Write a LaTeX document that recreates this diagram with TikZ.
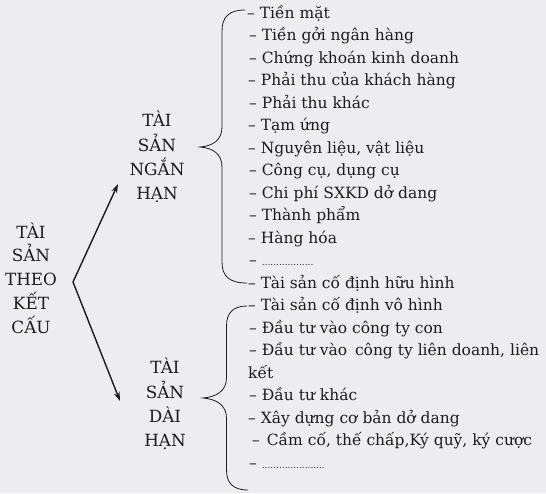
\documentclass[tikz,border=0pt]{standalone}
\usepackage{fontspec}
\setmainfont{DejaVu Serif}
\usepackage{tikz}
\usetikzlibrary{arrows.meta}
\definecolor{paper}{RGB}{237,237,240}
\definecolor{ink}{RGB}{28,28,30}

\begin{document}
\begin{tikzpicture}
            [x=1pt,y=-1pt,every node/.style={inner sep=0pt,text=ink},
             lbl/.style={align=center,font=\fontsize{16.8}{24.3}\selectfont},
             item/.style={anchor=base west,font=\fontsize{15.5}{22}\selectfont},
             dots/.style={font=\fontsize{9}{9}\selectfont},
             brace/.style={draw=ink,line width=.8pt},
             branch/.style={draw=ink,line width=1.4pt,-{Stealth[length=9pt,width=6pt]}}]
            \fill[paper] (0,0) rectangle (546,493);
            % the groups
            \node[lbl,font=\fontsize{16.8}{23.7}\selectfont] (theo) at (31,278) {TÀI\\SẢN\\THEO\\KẾT\\CẤU};
            \node[lbl] (ngan) at (157,157) {TÀI\\SẢN\\NGẮN\\HẠN};
            \node[lbl] (dai) at (165,404) {TÀI\\SẢN\\DÀI\\HẠN};
            % short term items
            \node[item] (a1) at (247,18) {– Tiền mặt};
            \node[item] (a2) at (249,40.5) {– Tiền gởi ngân hàng};
            \node[item] (a3) at (249,63) {– Chứng khoán kinh doanh};
            \node[item] (a4) at (248,85.5) {– Phải thu của khách hàng};
            \node[item] (a5) at (249,108) {– Phải thu khác};
            \node[item] (a6) at (248,130.5) {– Tạm ứng};
            \node[item] (a7) at (248,153) {– Nguyên liệu, vật liệu};
            \node[item] (a8) at (249,175.5) {– Công cụ, dụng cụ};
            \node[item] (a9) at (249,198) {– Chi phí SXKD dở dang};
            \node[item] (a10) at (249,220.5) {– Thành phẩm};
            \node[item] (a11) at (248,243) {– Hàng hóa};
            \node[item] (a12) at (249,265.5) {– {\fontsize{9}{9}\selectfont ..................}};
            \node[item] (a13) at (248,288) {– Tài sản cố định hữu hình};
            % long term items
            \node[item] (b1) at (248,310.5) {– Tài sản cố định vô hình};
            \node[item] (b2) at (249,333) {– Đầu tư vào công ty con};
            \node[item] (b3) at (249,355.5) {– Đầu tư vào\enspace công ty liên doanh, liên};
            \node[item] (b4) at (248,378) {kết};
            \node[item] (b5) at (249,400.5) {– Đầu tư khác};
            \node[item] (b6) at (248,423) {– Xây dựng cơ bản dở dang};
            \node[item] (b7) at (252,445.5) {–\kern2pt\ Cầm cố, thế chấp,Ký quỹ, ký cược};
            \node[item] (b8) at (249,468) {– {\fontsize{9}{9}\selectfont ......................}};
            % the braces
            \draw[brace] (245,10) .. controls (229,10) and (222,17) .. (222,31) -- (222,127)
                .. controls (222,140) and (213,146) .. (200,147)
                .. controls (213,148) and (222,154) .. (222,167) -- (222,262)
                .. controls (222,276) and (229,283) .. (247,283);
            \draw[brace] (247,306) .. controls (233,306) and (226.5,313) .. (226.5,326) -- (226.5,378)
                .. controls (226.5,391) and (216,397) .. (203,398)
                .. controls (216,399) and (226.5,405) .. (226.5,418) -- (226.5,470)
                .. controls (226.5,483) and (233,490) .. (248,490);
            % branches
            \coordinate (apex) at (73,282);
            \coordinate (up) at (118,184);
            \coordinate (down) at (120,401);
            \draw[branch] (apex) -- (up);
            \draw[branch] (apex) -- (down);
        \end{tikzpicture}
\end{document}
